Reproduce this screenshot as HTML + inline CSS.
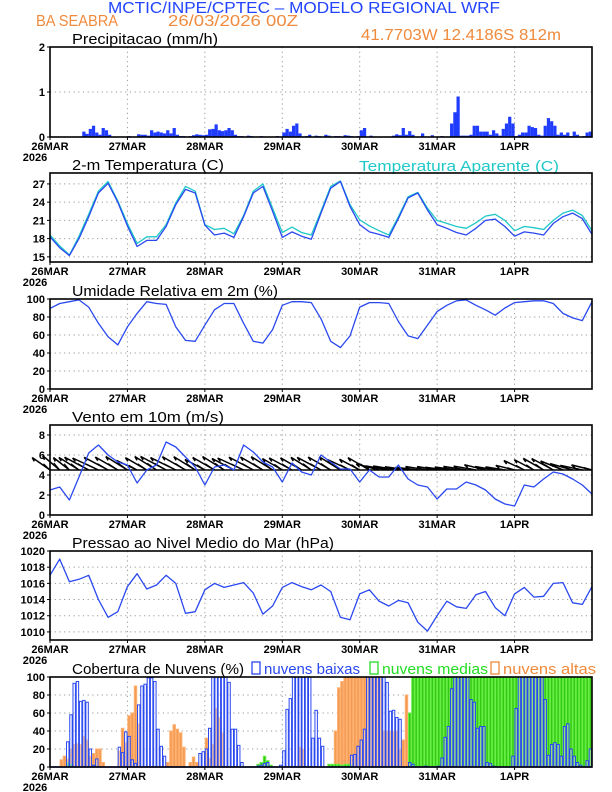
<!DOCTYPE html>
<html><head><meta charset="utf-8">
<style>
html,body{margin:0;padding:0;background:#fff;}
svg{display:block;font-family:"Liberation Sans",sans-serif;}
.tk{font-size:11px;font-weight:bold;fill:#000;}
.ttl{font-size:15px;fill:#000;}
</style></head>
<body>
<svg id="chart" width="612" height="792" viewBox="0 0 612 792" xmlns="http://www.w3.org/2000/svg">
<text x="108" y="13" font-size="16" fill="#2244ff" textLength="392" lengthAdjust="spacingAndGlyphs">MCTIC/INPE/CPTEC – MODELO REGIONAL WRF</text>
<text x="36" y="26" font-size="16" fill="#f08a3c" textLength="82" lengthAdjust="spacingAndGlyphs">BA SEABRA</text>
<text x="168" y="26" font-size="16" fill="#f08a3c" textLength="130" lengthAdjust="spacingAndGlyphs">26/03/2026 00Z</text>
<text x="361" y="40" font-size="16" fill="#f08a3c" textLength="200" lengthAdjust="spacingAndGlyphs">41.7703W 12.4186S 812m</text>
<g id="layer"></g>
</svg>
<script>
// ---- data (hour 0 = 26MAR 00Z) ----
const dayLabels = ["26MAR","27MAR","28MAR","29MAR","30MAR","31MAR","1APR"];
const precipHourly = [
0,0,0,0,0,0,0,0,0,0,0.12,0.07,
0.18,0.25,0.1,0.05,0.2,0.15,0.05,0,0,0,0,0,
0.02,0,0,0.06,0.05,0.05,0.03,0.15,0.1,0.12,0.1,0.08,
0.15,0.08,0.2,0.05,0.02,0.02,0.01,0.02,0.04,0.06,0.05,0.04,
0.05,0.17,0.18,0.28,0.15,0.13,0.15,0.2,0.15,0.05,0.02,0.02,
0,0.03,0.02,0,0,0.02,0,0,0,0,0.02,0,
0.1,0.18,0.12,0.25,0.3,0.08,0,0.02,0.05,0,0.03,0.02,
0,0.05,0.03,0,0.02,0.02,0,0.04,0.03,0.02,0,0.02,
0.15,0.2,0,0.03,0,0,0,0,0,0,0.03,0.06,
0.04,0.2,0.05,0.13,0.05,0,0,0.08,0,0,0.04,0,
0,0.02,0,0,0.3,0.55,0.9,0.03,0.03,0.03,0.05,0.25,
0.25,0.12,0.12,0.12,0.05,0.15,0.08,0.03,0.18,0.3,0.45,0.3,
0.02,0.05,0.1,0.1,0.25,0.22,0.2,0.05,0.03,0.25,0.42,0.35,
0.25,0.05,0.1,0.05,0.1,0.02,0.12,0.05,0,0.02,0.1,0.12];
// 3-hourly series (h0..h168)
const tempVals = [18.3,16.5,15.2,18,21.6,25.5,27.1,24,20.1,16.7,17.7,17.7,20,23.6,26.1,25.5,20.2,18.6,18.9,18.2,21.6,25.5,26.6,22.5,18.2,19.1,18.4,17.9,22.2,26.3,27.4,23.3,20.3,19.1,18.7,18.2,21.3,24.7,25.5,22.7,20.3,19.7,19.0,18.6,19.7,21,21.2,20,18.4,19.1,18.9,18.6,20.5,21.6,22.2,21.3,18.7];
const apparentVals = [18.6,16.8,15.3,18.4,22,25.8,27.4,24.2,20.5,17.2,18.3,18.3,20.3,23.9,26.6,25.8,20.3,19.5,19.7,18.8,21.8,25.8,27.0,23.0,19.0,19.9,19.0,18.6,22.5,26.6,27.5,23.6,21.1,20.1,19.3,18.6,21.6,24.9,25.6,23.0,21.0,20.5,20.0,19.7,20.6,21.7,22.0,21.0,19.3,20.0,19.8,19.5,21.0,22.2,22.7,21.8,19.3];
const rhVals = [89.6,95,97,99,91,73,58,49,69,84,97,95,94,69,54,53,71,88,95,95,73,53,51,66,93,97,97,96,78,53,46,59,91,96,96,95,75,59,56,71,86,93,98,99,93,88,82,90,96,97,98,98,95,84,79,76,97];
const windSpeed = [2.5,2.8,1.5,3.8,6.2,7.0,6.0,5.3,5.0,3.2,4.5,5.0,7.3,6.8,5.8,4.8,3.0,4.8,5.0,4.5,7.0,6.3,5.3,4.8,3.3,5.2,4.3,4.0,6.0,5.3,4.6,4.6,3.3,4.5,3.8,3.8,5.0,3.6,3.0,2.8,1.6,2.6,2.6,3.3,3.0,2.5,1.6,1.1,0.9,3.0,2.8,3.6,4.3,4.1,3.6,3.0,2.1];
const windDir = [125,130,128,122,118,115,118,120,122,115,120,122,118,116,120,122,118,120,122,118,115,118,120,122,120,118,120,122,118,120,122,115,118,120,105,100,99,98,97,99,100,97,98,99,100,104,100,99,104,115,118,120,118,112,106,102,104];
const pressVals = [1017,1019,1016.2,1016.5,1017,1014,1011.8,1012.5,1015.6,1017.2,1015.3,1015.8,1017,1016,1012.3,1012.5,1015.2,1016,1015.5,1015.8,1016.1,1014.8,1012.2,1013.2,1015.5,1016.1,1015.6,1015.2,1015.8,1015,1011.8,1011.5,1014.7,1015.2,1013.8,1013.2,1013.9,1013.6,1011.2,1010.1,1012,1013.8,1013.1,1012.9,1014.6,1015,1013,1012,1014.7,1015.5,1014.3,1014.4,1016,1016.1,1013.6,1013.4,1015.6];
const lowCloud = [
0,0,0,0,0,28,58,93,95,73,74,72,
20,2,9,0,0,0,0,0,0,22,16,39,
34,8,4,69,90,92,99,99,95,42,23,12,
0,0,0,0,0,0,0,0,0,0,15,17,
20,43,100,100,100,100,100,94,42,42,24,5,
0,0,0,0,1,2,4,5,0,0,0,2,
18,64,76,100,100,100,100,100,100,32,63,32,
23,0,0,0,0,0,0,0,0,13,14,23,
30,42,100,100,100,100,100,100,94,62,63,55,
53,0,0,5,3,0,0,0,1,0,0,0,
1,10,33,45,87,100,100,100,100,100,75,72,
43,45,45,5,4,1,0,0,0,0,0,12,
65,100,100,100,100,100,100,100,100,75,13,25,
27,25,12,45,48,20,12,5,2,0,7,20];
const highCloud = [
0,0,0,8,12,9,20,25,26,25,34,30,
12,15,20,20,5,0,0,0,0,18,43,27,
57,60,90,48,0,0,0,0,0,0,0,0,
5,40,47,42,38,22,0,5,11,5,0,0,
32,10,25,65,55,38,0,0,0,0,0,0,
0,0,0,0,0,0,0,0,0,0,0,0,
0,0,0,0,0,22,20,0,0,0,0,0,
0,0,0,0,40,88,95,100,100,100,100,100,
100,100,100,100,100,100,100,40,40,40,40,40,
20,30,80,60,0,0,0,0,0,0,0,0,
0,0,0,0,0,0,0,0,0,0,0,0,
0,0,0,0,0,0,0,0,0,0,0,0,
0,0,0,0,0,0,0,0,0,0,0,0,
0,0,0,0,0,0,0,0,0,0,0,0];
const midCloud = [
0,0,0,0,0,5,3,0,0,0,0,0,
0,0,0,0,0,0,0,0,0,0,0,0,
0,0,0,0,0,0,0,0,0,0,0,0,
0,0,0,0,0,0,0,0,0,0,0,0,
0,0,0,0,0,0,0,0,0,0,0,0,
0,0,0,0,3,5,12,7,2,0,0,0,
0,0,0,0,0,0,0,0,0,0,0,0,
0,0,3,3,3,3,2,3,3,2,0,0,
0,0,0,0,0,0,0,0,0,0,0,0,
0,0,0,60,100,100,100,100,100,100,100,100,
100,100,100,100,100,100,100,100,100,100,100,100,
100,100,100,100,100,100,100,100,100,100,100,100,
100,100,100,100,100,100,100,100,100,100,100,100,
100,100,100,100,100,100,100,100,100,100,100,100];

const NS="http://www.w3.org/2000/svg";
const layer=document.getElementById('layer');
const X0=50, X1=592, HOURS=168;
function xh(h){return X0+h*(X1-X0)/HOURS;}
function mk(tag,attrs,parent){const e=document.createElementNS(NS,tag);for(const k in attrs)e.setAttribute(k,attrs[k]);(parent||layer).appendChild(e);return e;}
function txt(x,y,s,cls,anchor,parent){const t=mk('text',{x:x,y:y,'class':cls,'text-anchor':anchor||'start'},parent);t.textContent=s;return t;}

function panel(name,top,bottom,vTop,vBot,ticks,title,titleLen){
  const g=mk('g',{});
  
  
  const ys=v=>bottom-(v-vBot)/(vTop-vBot)*(bottom-top);
  for(let d=1;d<7;d++){const l=mk('line',{x1:xh(d*24),x2:xh(d*24),y1:top,y2:bottom,stroke:'#999','stroke-width':1,'stroke-dasharray':'1.2,3.5'},g);
    
    }
  ticks.forEach(v=>{
    if(v!==vBot&&v!==vTop){const l=mk('line',{x1:X0,x2:X1,y1:ys(v),y2:ys(v),stroke:'#999','stroke-width':1,'stroke-dasharray':'1.2,3.5'},g);
      
      }
    const t=txt(45,ys(v)+4,String(v),'tk','end',g);
    
    
    mk('line',{x1:X0-3,x2:X0,y1:ys(v),y2:ys(v),stroke:'#000','stroke-width':1},g);
  });
  dayLabels.forEach((s,d)=>{
    const t=txt(xh(d*24),bottom+13,s,'tk','middle',g);
    
    
    mk('line',{x1:xh(d*24),x2:xh(d*24),y1:bottom,y2:bottom+3,stroke:'#000'},g);
  });
  const yr=txt(35,bottom+24,'2026','tk','middle',g);
  
  
  const tt=mk('text',{x:72,y:top-3,'class':'ttl',textLength:titleLen,lengthAdjust:'spacingAndGlyphs'},g);
  tt.textContent=title;
  
  
  return {g,ys,top,bottom};
}
function frame(p){
  const r=mk('rect',{x:X0,y:p.top,width:X1-X0,height:p.bottom-p.top,fill:'none',stroke:'#000','stroke-width':1.6});
  
  
}
function line(p,vals,color,name,w){
  const pts=vals.map((v,i)=>xh(i*3).toFixed(1)+','+p.ys(v).toFixed(1)).join(' ');
  const l=mk('polyline',{points:pts,fill:'none',stroke:color,'stroke-width':w||1.3,'stroke-linejoin':'round'},p.g);
  
  
}

const p1=panel('precip-panel',47,137,2,0,[0,1,2],'Precipitacao (mm/h)',146);
precipHourly.forEach((v,i)=>{ if(v<=0)return;
  const b=mk('rect',{x:xh(i),y:p1.ys(v),width:xh(1)-xh(0),height:p1.ys(0)-p1.ys(v),fill:'#1f3cff'},p1.g);
  
  
});
frame(p1);

const p2=panel('temperature-panel',173,262,28.8,14.15,[15,18,21,24,27],'2-m Temperatura (C)',152);
line(p2,apparentVals,'#20c8c8','apparent-temp-line');
line(p2,tempVals,'#2a48f0','temperature-line');
const at=mk('text',{x:359,y:171,'font-size':15,fill:'#20c8c8',textLength:200,lengthAdjust:'spacingAndGlyphs'});
at.textContent='Temperatura Aparente (C)';


frame(p2);

const p3=panel('humidity-panel',299,389,100,0,[0,20,40,60,80,100],'Umidade Relativa em 2m (%)',206);
line(p3,rhVals,'#2a48f0','humidity-line');
frame(p3);

const p4=panel('wind-panel',425,515,9,0,[0,2,4,6,8],'Vento em 10m (m/s)',152);
windSpeed.forEach((s,i)=>{
  const d=windDir[i]*Math.PI/180;
  const L=18+s*1.5;
  const x0=xh(i*3), y0=p4.ys(4.5);
  const ex=-Math.sin(d), ny=-Math.cos(d);
  const x1=x0+ex*L, y1=y0-ny*L;
  const a=mk('path',{d:`M${x0.toFixed(1)},${y0.toFixed(1)}L${x1.toFixed(1)},${y1.toFixed(1)}M${x1.toFixed(1)},${y1.toFixed(1)}l${(-ex*4-ny*2).toFixed(1)},${(ny*4-ex*2).toFixed(1)}`,stroke:'#000','stroke-width':1.5,fill:'none'},p4.g);
  
  
  const b=mk('line',{x1:x0,x2:x0+ex*L*0.7+6,y1:y0,y2:y0-ny*L*0.5,stroke:'#000','stroke-width':1.2},p4.g);
  
  
});
const base=mk('line',{x1:X0,x2:X1,y1:p4.ys(4.5),y2:p4.ys(4.5),stroke:'#000','stroke-width':1.4},p4.g);


line(p4,windSpeed,'#2a48f0','wind-speed-line');
frame(p4);

const p5=panel('pressure-panel',551,640,1020,1009,[1010,1012,1014,1016,1018,1020],'Pressao ao Nivel Medio do Mar (hPa)',262);
line(p5,pressVals,'#2a48f0','pressure-line');
frame(p5);

const p6=panel('cloud-panel',677,767,100,0,[0,20,40,60,80,100],'Cobertura de Nuvens (%)',172);
function cloudBars(vals,fill,stroke,name){
  vals.forEach((v,i)=>{ if(v<=0)return;
    const w=xh(1)-xh(0);
    const b=mk('rect',{x:xh(i)+0.4,y:p6.ys(v),width:w-0.8,height:p6.ys(0)-p6.ys(v),fill:fill,stroke:stroke,'stroke-width':1},p6.g);
    
    
  });
}
cloudBars(highCloud,'#f39a52','#ffb070','high-cloud-bar');
cloudBars(midCloud,'#33c812','#66ee44','mid-cloud-bar');
cloudBars(lowCloud,'rgba(255,255,255,0.45)','#2a48f0','low-cloud-bar');
const bl=mk('line',{x1:X0,x2:X1,y1:767,y2:767,stroke:'#2a48f0','stroke-width':1.5});


frame(p6);
const legend=[['nuvens baixas','#2a48f0',252,96],['nuvens medias','#22dd22',370,106],['nuvens altas','#f08a3c',491,93]];
legend.forEach(([s,c,x,w])=>{
  const r=mk('rect',{x:x,y:662,width:8,height:12,fill:'none',stroke:c,'stroke-width':1.3});
  
  
  const t=mk('text',{x:x+12,y:674,'font-size':15,fill:c,textLength:w,lengthAdjust:'spacingAndGlyphs'});
  t.textContent=s;
  
  
});
</script>
</body></html>
